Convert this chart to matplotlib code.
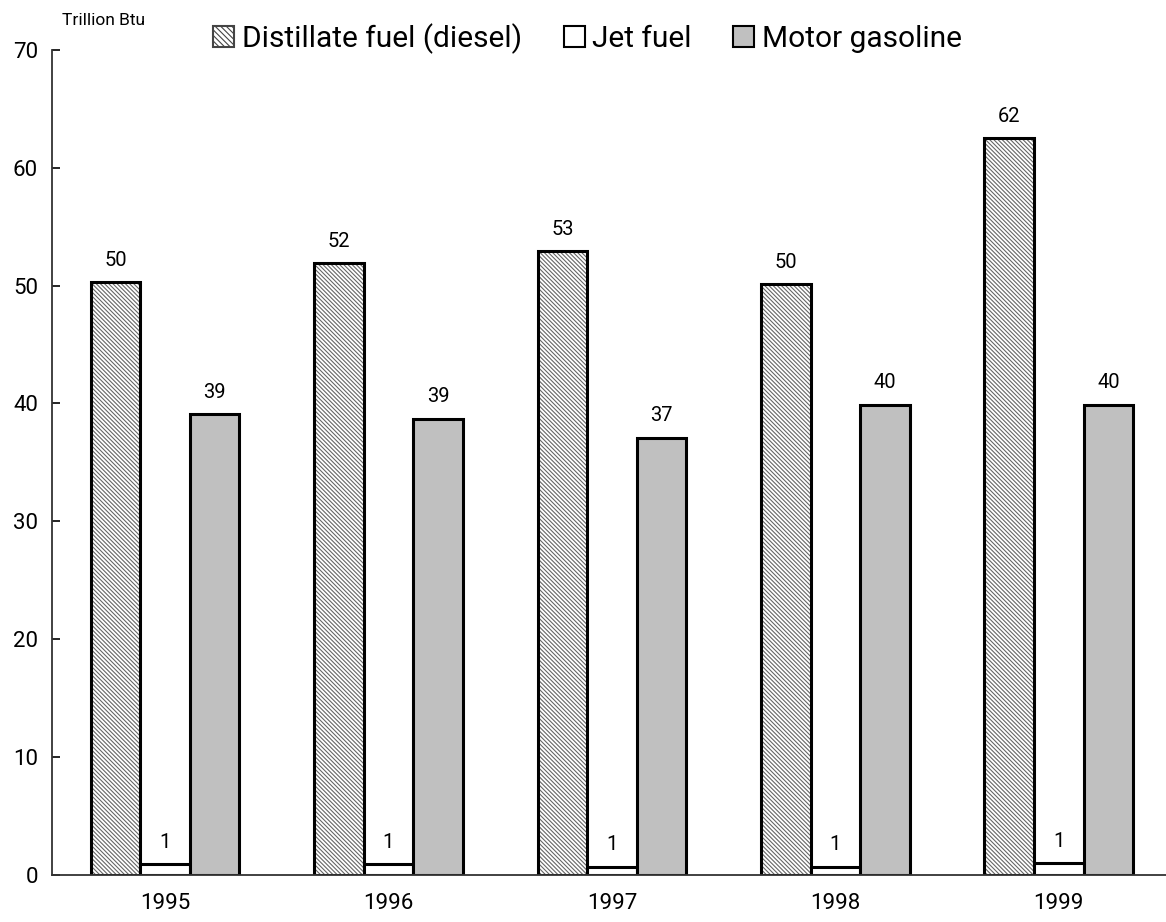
import matplotlib.pyplot as plt
import numpy as np

plt.rcParams['font.family'] = ['Roboto', 'DejaVu Sans']
plt.rcParams['hatch.linewidth'] = 0.8

years = ['1995', '1996', '1997', '1998', '1999']
diesel = [50.3, 51.9, 52.9, 50.1, 62.5]
jet = [0.9, 0.9, 0.7, 0.7, 1.0]
gasoline = [39.1, 38.7, 37.1, 39.9, 39.9]
diesel_labels = ['50', '52', '53', '50', '62']
jet_labels = ['1', '1', '1', '1', '1']
gasoline_labels = ['39', '39', '37', '40', '40']

x = np.arange(len(years))
w = 0.222

fig = plt.figure(figsize=(11.66, 9.22), dpi=100)
ax = fig.add_axes([0.0446, 0.051, 0.9554, 0.895])

# hatched diesel bars: hatch drawn in grey, outline in black on top
ax.bar(x - w, diesel, w, color='white', edgecolor='#666666', hatch='\\\\\\\\\\\\\\\\', linewidth=0)
ax.bar(x - w, diesel, w, fill=False, edgecolor='black', linewidth=2.2)
ax.bar(x, jet, w, color='white', edgecolor='black', linewidth=2.2)
ax.bar(x + w, gasoline, w, color='#c0c0c0', edgecolor='black', linewidth=2.2)

for xs, vals, labs in [(x - w, diesel, diesel_labels), (x, jet, jet_labels), (x + w, gasoline, gasoline_labels)]:
    for xi, v, lab in zip(xs, vals, labs):
        ax.annotate(lab, (xi, v), xytext=(0, 9), textcoords='offset points',
                    ha='center', va='bottom', fontsize=14.5)

ax.set_xlim(-0.506, 4.48)
ax.set_ylim(0, 70)
ax.set_yticks(range(0, 71, 10))
ax.set_xticks(x)
ax.set_xticklabels(years)
ax.tick_params(axis='y', direction='in', length=6, width=1.2, pad=10, labelsize=16)
ax.tick_params(axis='x', length=0, pad=13, labelsize=16)
for s in ['top', 'right']:
    ax.spines[s].set_visible(False)
for s in ['left', 'bottom']:
    ax.spines[s].set_linewidth(1.3)
    ax.spines[s].set_color('#333333')

fig.text(0.053, 0.978, 'Trillion Btu', fontsize=12.5, va='center', ha='left')

# legend
h1 = plt.Rectangle((0, 0), 1, 1, facecolor='white', edgecolor='#444444', hatch='\\\\\\\\\\\\', linewidth=1.5)
h2 = plt.Rectangle((0, 0), 1, 1, facecolor='white', edgecolor='black', linewidth=1.5)
h3 = plt.Rectangle((0, 0), 1, 1, facecolor='#c0c0c0', edgecolor='black', linewidth=1.5)
fig.legend([h1, h2, h3], ['Distillate fuel (diesel)', 'Jet fuel', 'Motor gasoline'],
           loc='center', bbox_to_anchor=(0.504, 0.958), ncol=3, frameon=False,
           fontsize=21.5, handlelength=0.7, handleheight=0.7, handletextpad=0.25,
           columnspacing=1.4)

fig.savefig('out.png', dpi=100)
